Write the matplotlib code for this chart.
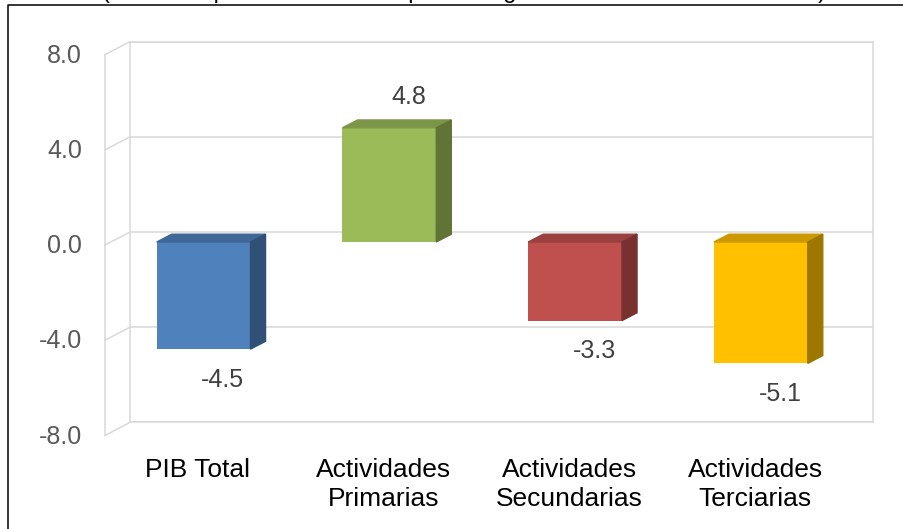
import matplotlib
matplotlib.use("Agg")
import matplotlib.pyplot as plt
from matplotlib.colors import to_rgb
from matplotlib.lines import Line2D
from matplotlib.patches import Polygon
import numpy as np

categorias = ["PIB Total", "Actividades\nPrimarias", "Actividades\nSecundarias", "Actividades\nTerciarias"]
valores = [-4.5, 4.8, -3.3, -5.1]
colores = ["#4F81BD", "#9BBB59", "#C0504D", "#FFC000"]
y_ticks = [-8, -4, 0, 4, 8]
titulo = "(Variación porcentual con respecto al igual trimestre del año anterior)"

plt.rcParams["font.family"] = ["Liberation Sans", "DejaVu Sans"]


def shade(c, k):
    r, g, b = to_rgb(c)
    return (r * k, g * k, b * k)


W, H = 904, 529
fig = plt.figure(figsize=(W / 100, H / 100), dpi=100)

# axes = back wall of the 3d box
ax = fig.add_axes([130 / W, 1 - 422.4 / H, 743 / W, 380.8 / H])
ax.set_xlim(0, 4)
ax.set_ylim(-8, 8)

# depth of the box in data units (front minus back)
dx = -25 / (743 / 4)
dy = -13 / (380.8 / 16)
f_front, f_back = 0.77, 0.17
grid_c = "#D9D9D9"

for s in ax.spines.values():
    s.set_color(grid_c)
    s.set_linewidth(1.1)
ax.set_xticks([])
ax.set_yticks(y_ticks)
ax.tick_params(length=0, labelleft=False)
ax.yaxis.grid(True, color=grid_c, lw=1.1)
ax.set_axisbelow(True)

# left side wall
for v in y_ticks:
    ax.plot([0, dx], [v, v + dy], color=grid_c, lw=1.1, clip_on=False, zorder=1)
    ax.text(-0.258, v + dy - 0.05, f"{v:.1f}", ha="right", va="center",
            fontsize=18, color="#595959")
ax.plot([dx, dx], [-8 + dy, 8 + dy], color=grid_c, lw=1.1, clip_on=False, zorder=1)

# bars: front face + top + right side
x = np.arange(len(valores)) + 0.5
ancho = 0.505
xf = x + f_front * dx
yf = f_front * dy
ax.bar(xf, valores, width=ancho, bottom=yf, color=colores, zorder=3, clip_on=False)
sx = (f_back - f_front) * dx
sy = (f_back - f_front) * dy
for xi, v, c in zip(xf, valores, colores):
    lo, hi = min(v, 0) + yf, max(v, 0) + yf
    xl, xr = xi - ancho / 2, xi + ancho / 2
    ax.add_patch(Polygon([(xl, hi), (xr, hi), (xr + sx, hi + sy), (xl + sx, hi + sy)],
                         closed=True, color=shade(c, 0.8), zorder=3, clip_on=False))
    ax.add_patch(Polygon([(xr, lo), (xr, hi), (xr + sx, hi + sy), (xr + sx, lo + sy)],
                         closed=True, color=shade(c, 0.62), zorder=3, clip_on=False))

# value labels
for xi, v in zip(x, valores):
    off = 1.3 if v > 0 else -1.3
    ax.text(xi, v + yf + off, f"{v:.1f}", ha="center", va="center",
            fontsize=18, color="#404040")

# category labels on the front plane
for xi, cat in zip(x, categorias):
    ax.text(xi + dx, -9.5, cat, ha="center", va="top", fontsize=19,
            color="black", linespacing=1.25, clip_on=False)

# outer frame and the cropped title (only its lower edge shows)
fig.add_artist(Line2D([8 / W, 8 / W, 1], [0, 1 - 5 / H, 1 - 5 / H],
                      transform=fig.transFigure, color="black", lw=1.1))
fig.text(464 / W, 1 + 2 / H, titulo, ha="center", va="baseline", fontsize=17)

fig.savefig("out.png", dpi=100)
